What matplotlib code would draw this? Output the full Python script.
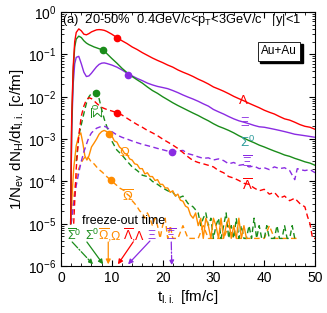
import numpy as np
import matplotlib
matplotlib.use("Agg")
import matplotlib.pyplot as plt
import matplotlib.transforms as mtransforms

plt.rcParams['font.family'] = ['Liberation Sans', 'DejaVu Sans']
plt.rcParams['mathtext.fontset'] = 'custom'
plt.rcParams['mathtext.rm'] = 'Liberation Sans'
plt.rcParams['mathtext.it'] = 'Liberation Sans:italic'

RED = '#ff0000'
GREEN = '#1a8c1a'
PURPLE = '#8a2be2'
ORANGE = '#ff8c00'
TEAL = '#2a9a9a'

# ---- data ----
t_solid = [1.9, 2.1, 2.4, 2.7, 3.0, 3.5, 4.0, 4.5, 5.0, 5.5, 6.0, 6.5, 7.0, 7.5, 8.0, 8.5, 9.0,
           10, 11, 12, 13, 14, 15, 16, 17, 18, 19, 20, 21, 22, 23, 24, 25, 26, 27, 28, 29, 30,
           31, 32, 33, 34, 35, 36, 37, 38, 39, 40, 41, 42, 43, 44, 45, 46, 47, 48, 49, 50]

lam = [1e-5, 3e-3, 0.05, 0.2, 0.33, 0.40, 0.36, 0.30, 0.29, 0.31, 0.34, 0.36, 0.38, 0.385, 0.38, 0.37, 0.35,
       0.30, 0.25, 0.21, 0.18, 0.15, 0.13, 0.11, 0.095, 0.082, 0.072, 0.064, 0.056, 0.050, 0.043, 0.038,
       0.034, 0.030, 0.026, 0.023, 0.020, 0.017, 0.0152, 0.0135, 0.0118, 0.0102, 0.0090, 0.0080, 0.0070,
       0.0062, 0.0055, 0.0048, 0.0043, 0.0039, 0.0034, 0.0030, 0.0028, 0.0025, 0.0022, 0.0020, 0.0019, 0.0017]

sig0 = [1e-5, 2e-3, 0.04, 0.15, 0.23, 0.27, 0.25, 0.21, 0.185, 0.17, 0.16, 0.15, 0.143, 0.136, 0.13, 0.12, 0.105,
        0.08, 0.062, 0.047, 0.037, 0.030, 0.025, 0.021, 0.017, 0.014, 0.012, 0.010, 0.0085, 0.0072, 0.0062,
        0.0054, 0.0047, 0.0041, 0.0036, 0.0031, 0.0027, 0.0023, 0.0020, 0.0018, 0.0016, 0.0014, 0.0012,
        0.00105, 0.00092, 0.00082, 0.00072, 0.00065, 0.00058, 0.00052, 0.00047, 0.00042, 0.00039, 0.00035,
        0.00032, 0.00029, 0.00027, 0.00024]

xi = [1e-5, 1.5e-3, 0.02, 0.06, 0.085, 0.09, 0.06, 0.038, 0.03, 0.031, 0.036, 0.043, 0.051, 0.058, 0.062, 0.063, 0.061,
      0.056, 0.050, 0.043, 0.036, 0.031, 0.027, 0.024, 0.021, 0.019, 0.0175, 0.0165, 0.0155, 0.014, 0.0125,
      0.011, 0.0098, 0.0088, 0.0078, 0.0068, 0.0060, 0.0050, 0.0044, 0.0039, 0.0034, 0.0030, 0.0027, 0.0025,
      0.0023, 0.0021, 0.00195, 0.0019, 0.0018, 0.0017, 0.0016, 0.0015, 0.0014, 0.0013, 0.00125, 0.0012,
      0.00115, 0.0011]

t_sigbar = [3.0, 3.5, 4.0, 4.5, 5.0, 5.5, 6.0, 6.5, 7.0, 7.5, 8.0, 8.5, 9.0, 9.5, 10, 10.5, 11, 12, 13, 14, 15,
            16, 17, 18, 19, 20, 21, 22, 23, 24, 25, 26, 27, 27.5, 28, 28.5, 29, 29.5, 30, 30.5, 31, 31.5, 32,
            32.5, 33, 33.5, 34, 34.5, 35, 35.5, 36, 36.5, 37, 37.5, 38, 38.5, 39, 39.5, 40, 40.5, 41, 41.5, 42,
            42.5, 43, 43.5, 44, 44.5, 45, 45.5, 46]
sigbar = [3e-4, 1.2e-3, 2.2e-3, 4e-3, 7e-3, 0.010, 0.012, 0.013, 0.012, 0.009, 5e-3, 3e-3, 2e-3, 1.3e-3, 9e-4,
          7e-4, 5.5e-4, 4.2e-4, 3e-4, 2.2e-4, 1.8e-4, 1.4e-4, 1.3e-4, 1.0e-4, 8.5e-5, 7e-5, 6e-5, 5.5e-5, 4e-5,
          4.5e-5, 3e-5, 2.5e-5, 1.8e-5, 9e-6, 1.35e-5, 1.8e-5, 9e-6, 1.35e-5, 4.5e-6, 9e-6, 1.35e-5, 4.5e-6,
          9e-6, 1.8e-5, 4.5e-6, 9e-6, 4.5e-6, 1.35e-5, 4.5e-6, 9e-6, 4.5e-6, 4.5e-6, 9e-6, 4.5e-6, 1.35e-5,
          4.5e-6, 9e-6, 4.5e-6, 4.5e-6, 9e-6, 4.5e-6, 4.5e-6, 4.5e-6, 9e-6, 4.5e-6, 4.5e-6, 9e-6, 4.5e-6,
          4.5e-6, 9e-6, 4.5e-6]

t_lambar = [2.5, 3.0, 3.5, 4.0, 4.5, 5.0, 5.5, 6.0, 6.5, 7.0, 7.5, 8.0, 9.0, 10, 11, 12, 13, 14, 15, 16, 17,
            18, 19, 20, 21, 22, 23, 24, 25, 26, 27, 28, 29, 30, 31, 32, 33, 34, 35, 36, 37, 38, 39, 40, 41,
            42, 43, 44, 45, 46, 47, 48, 48.5, 49, 49.5, 50]
lambar = [1e-5, 2e-4, 1.2e-3, 3.5e-3, 6e-3, 8.5e-3, 9.5e-3, 9e-3, 8e-3, 7e-3, 6.2e-3, 5.6e-3, 5e-3, 4.6e-3,
          4.2e-3, 3.7e-3, 3.1e-3, 2.6e-3, 2.2e-3, 1.9e-3, 1.6e-3, 1.4e-3, 1.2e-3, 1.0e-3, 8.5e-4, 7.2e-4,
          6e-4, 4.8e-4, 3.8e-4, 3.1e-4, 2.8e-4, 2.6e-4, 2.4e-4, 2.2e-4, 1.8e-4, 1.6e-4, 1.3e-4, 1.2e-4,
          1.05e-4, 9e-5, 8.5e-5, 7e-5, 6e-5, 6.5e-5, 5e-5, 5.5e-5, 4e-5, 4.5e-5, 3.5e-5, 4e-5, 3e-5, 2.5e-5,
          1.5e-5, 1e-5, 4.5e-6, 4.5e-6]

t_xibar = [2.0, 2.5, 3.0, 3.5, 4.0, 4.5, 5.0, 5.5, 6.0, 6.5, 7.0, 7.5, 8.0, 8.5, 9.0, 9.5, 10, 11, 12, 13, 14,
           15, 16, 17, 18, 19, 20, 21, 22, 23, 24, 25, 26, 27, 28, 29, 30, 31, 32, 33, 34, 35, 36, 37, 38, 39,
           40, 41, 42, 43, 44, 45, 46, 46.5, 47, 48, 49, 50]
xibar = [1e-5, 3e-5, 8e-5, 1.6e-4, 3e-4, 5e-4, 7.5e-4, 1.1e-3, 1.4e-3, 1.6e-3, 1.8e-3, 1.9e-3, 2.0e-3, 2.0e-3,
         1.9e-3, 1.7e-3, 1.5e-3, 1.25e-3, 1.1e-3, 1.0e-3, 9e-4, 8.2e-4, 7.5e-4, 7e-4, 6.5e-4, 6e-4, 5.6e-4,
         5.2e-4, 5e-4, 5.2e-4, 5.4e-4, 4.5e-4, 4.2e-4, 3.8e-4, 3.5e-4, 3.6e-4, 3.2e-4, 3.4e-4, 3.1e-4,
         2.6e-4, 2.8e-4, 2.4e-4, 2.5e-4, 2.2e-4, 2.3e-4, 2e-4, 2.1e-4, 1.9e-4, 2.2e-4, 2.0e-4, 2.1e-4,
         1.8e-4, 1.1e-4, 2e-4, 1.9e-4, 1.8e-4, 1.9e-4, 1.6e-4]

t_omega = [1.9, 2.2, 2.5, 3.0, 3.5, 3.9, 4.3, 4.7, 5.1, 5.5, 6.0, 6.5, 7.0, 7.5, 8.0, 8.5, 9.0, 9.5, 10, 10.5,
           11, 11.5, 12, 12.5, 13, 13.5, 14, 14.5, 15, 15.5, 16, 16.5, 17, 17.5, 18, 18.5, 19, 19.5, 20, 20.5,
           21, 21.5, 22, 22.5, 23, 23.5, 24, 24.5, 25, 25.5, 26, 26.5, 27, 27.5, 28, 28.5, 29, 29.5, 30, 30.5,
           31, 31.5, 32, 32.5, 33, 33.5, 34, 34.5, 35, 35.5, 36, 36.5]
omega = [1e-5, 5e-5, 2e-4, 7e-4, 1.2e-3, 1.4e-3, 8e-4, 4e-4, 3.2e-4, 4e-4, 6.5e-4, 8e-4, 1.0e-3, 1.3e-3,
         1.5e-3, 1.6e-3, 1.5e-3, 1.3e-3, 1.2e-3, 9e-4, 8.5e-4, 6.5e-4, 5.8e-4, 4.6e-4, 4.4e-4, 3.4e-4, 3.2e-4,
         2.6e-4, 2.5e-4, 2.0e-4, 2.0e-4, 1.5e-4, 1.6e-4, 1.3e-4, 1.3e-4, 1.05e-4, 1.1e-4, 8.5e-5, 8.5e-5,
         7e-5, 7e-5, 5.5e-5, 6e-5, 4.5e-5, 5e-5, 3.6e-5, 3.4e-5, 2.6e-5, 2.4e-5, 1.6e-5, 1.35e-5, 1.8e-5,
         9e-6, 1.35e-5, 4.5e-6, 1.35e-5, 9e-6, 4.5e-6, 1.35e-5, 9e-6, 4.5e-6, 1.35e-5, 4.5e-6, 9e-6, 1.35e-5,
         4.5e-6, 9e-6, 4.5e-6, 1.35e-5, 4.5e-6, 9e-6, 4.5e-6]

t_omebar = [2.0, 2.5, 3.0, 3.5, 4.0, 4.5, 5.0, 5.5, 6.0, 6.5, 7.0, 7.5, 8.0, 8.5, 9.0, 9.5, 10, 10.5, 11,
            11.5, 12, 12.5, 13, 13.5, 14, 14.5, 15, 15.5, 16, 16.5, 17, 17.5, 18, 18.5, 19, 19.5, 20, 20.5,
            21, 21.5, 22, 23, 24, 25, 26, 27, 28, 29, 30, 31, 32, 33, 34, 35, 36, 37, 38, 39, 40, 41, 42, 43,
            44, 45, 46, 47]
omebar = [1e-5, 4e-5, 1.2e-4, 2e-4, 2.8e-4, 3.5e-4, 4e-4, 3.5e-4, 2.8e-4, 2.6e-4, 2.2e-4, 1.9e-4, 1.7e-4,
          1.5e-4, 1.3e-4, 1.15e-4, 1.05e-4, 9e-5, 8e-5, 7e-5, 6.5e-5, 6e-5, 5e-5, 4.5e-5, 3.5e-5, 3e-5,
          2.5e-5, 2e-5, 1.8e-5, 1.35e-5, 1.8e-5, 1.35e-5, 9e-6, 1.35e-5, 9e-6, 4.5e-6, 9e-6, 1.35e-5, 4.5e-6,
          9e-6, 4.5e-6, 4.5e-6, 9e-6, 4.5e-6, 4.5e-6, 4.5e-6, 9e-6, 4.5e-6, 4.5e-6, 4.5e-6, 4.5e-6, 9e-6,
          4.5e-6, 4.5e-6, 4.5e-6, 4.5e-6, 4.5e-6, 4.5e-6, 4.5e-6, 9e-6, 4.5e-6, 4.5e-6, 4.5e-6, 4.5e-6,
          4.5e-6, 4.5e-6]

# freeze-out markers (t, value)
fo_lam = (11.0, 0.25)
fo_sig0 = (8.3, 0.125)
fo_xi = (13.2, 0.032)
fo_sigbar = (6.8, 0.012)
fo_lambar = (11.0, 4.2e-3)
fo_xibar = (21.8, 5.0e-4)
fo_omega = (9.4, 1.3e-3)
fo_omebar = (9.8, 1.05e-4)

fig = plt.figure(figsize=(3.27, 3.13), dpi=100)
ax = fig.add_axes([0.1865, 0.150, 0.777, 0.8115])

lw = 1.0
ds = (4, 2.5)
ax.plot(t_omebar, omebar, color=ORANGE, lw=lw, dashes=ds)
ax.plot(t_sigbar, sigbar, color=GREEN, lw=lw, dashes=ds)
ax.plot(t_omega, omega, color=ORANGE, lw=lw)
ax.plot(t_xibar, xibar, color=PURPLE, lw=lw, dashes=ds)
ax.plot(t_lambar, lambar, color=RED, lw=lw, dashes=ds)
ax.plot(t_solid, xi, color=PURPLE, lw=lw)
ax.plot(t_solid, sig0, color=GREEN, lw=lw)
ax.plot(t_solid, lam, color=RED, lw=lw)

for (t, v), c in [(fo_lam, RED), (fo_sig0, GREEN), (fo_xi, PURPLE), (fo_sigbar, GREEN),
                  (fo_lambar, RED), (fo_xibar, PURPLE), (fo_omega, ORANGE), (fo_omebar, ORANGE)]:
    ax.plot(t, v, 'o', color=c, ms=4.5)

ax.set_yscale('log')
ax.set_xlim(0, 50)
ax.set_ylim(1e-6, 1)
ax.set_xticks([0, 10, 20, 30, 40, 50])
ax.set_xticks(np.arange(0, 51, 2), minor=True)
ax.tick_params(which='both', direction='in', top=True, right=True, labelsize=10)
ax.tick_params(which='major', length=4)
ax.tick_params(which='minor', length=2)
ax.set_xlabel(r't$_{\rm l.i.}$ [fm/c]', fontsize=11, labelpad=2)
ax.set_ylabel(r'1/N$_{\rm ev}$ dN$_{\rm H}$/dt$_{\rm l.i.}$ [c/fm]', fontsize=11, labelpad=1)

ax.text(0.005, 0.968, r'(a)  20-50%  0.4GeV/c<p$_{\rm T}$<3GeV/c   |y|<1', transform=ax.transAxes,
        fontsize=9.3, va='center', ha='left')

# Au+Au box with shadow
shadow = mtransforms.offset_copy(ax.transAxes, fig=fig, x=2.5, y=-2.5, units='dots')
ax.text(0.858, 0.846, 'Au+Au', transform=shadow, fontsize=8.5, ha='center', va='center', color='k',
        bbox=dict(boxstyle='square,pad=0.3', fc='k', ec='k'))
ax.text(0.858, 0.846, 'Au+Au', transform=ax.transAxes, fontsize=8.5, ha='center', va='center',
        bbox=dict(boxstyle='square,pad=0.3', fc='white', ec='k', lw=0.6))

# curve labels
ax.text(35.8, 8e-3, r'$\Lambda$', color=RED, fontsize=9.5, ha='center', va='center')
ax.text(36.2, 2.4e-3, r'$\Xi$', color=PURPLE, fontsize=9.5, ha='center', va='center')
ax.text(36.8, 8.5e-4, r'$\Sigma^0$', color=TEAL, fontsize=9.5, ha='center', va='center')
ax.text(7.7, 4.8e-3, r'$\overline{\Sigma}^0$', color=GREEN, fontsize=9.5, ha='center', va='center', rotation=90)
ax.text(12.6, 4.7e-4, r'$\Omega$', color=ORANGE, fontsize=9.5, ha='center', va='center')
ax.text(13.2, 4.3e-5, r'$\overline{\Omega}$', color=ORANGE, fontsize=9.5, ha='center', va='center')
ax.text(36.6, 2.7e-4, r'$\overline{\Xi}$', color=PURPLE, fontsize=9.5, ha='center', va='center')
ax.text(36.6, 8e-5, r'$\overline{\Lambda}$', color=RED, fontsize=9.5, ha='center', va='center')

ax.text(4.1, 1.15e-5, 'freeze-out time', fontsize=9, ha='left', va='center')
yrow = 5.2e-6
ax.text(1.2, yrow, r'$\overline{\Sigma}^0$', color=GREEN, fontsize=9, ha='left', va='center')
ax.text(4.7, yrow, r'$\Sigma^0$', color=GREEN, fontsize=9, ha='left', va='center')
ax.text(7.3, yrow, r'$\overline{\Omega}$,$\Omega$', color=ORANGE, fontsize=9, ha='left', va='center')
ax.text(12.2, yrow, r'$\overline{\Lambda}$,$\Lambda$', color=RED, fontsize=9, ha='left', va='center')
ax.text(16.9, yrow, r'$\Xi$', color=PURPLE, fontsize=9, ha='left', va='center')
ax.text(20.7, yrow, r'$\overline{\Xi}$', color=PURPLE, fontsize=9, ha='left', va='center')

arrows = [((2.2, 3.7e-6), (6.3, 1.1e-6), GREEN, '-.'),
          ((5.1, 3.7e-6), (8.3, 1.1e-6), GREEN, '-'),
          ((9.3, 3.7e-6), (9.3, 1.1e-6), ORANGE, '-'),
          ((14.2, 3.7e-6), (11.2, 1.1e-6), RED, '-'),
          ((17.5, 3.9e-6), (13.2, 1.1e-6), PURPLE, '-'),
          ((21.7, 3.7e-6), (21.8, 1.05e-6), PURPLE, '-.')]
for start, end, c, ls in arrows:
    ax.annotate('', xy=end, xytext=start,
                arrowprops=dict(arrowstyle='-|>', color=c, lw=0.9, ls=ls,
                                mutation_scale=7, shrinkA=0, shrinkB=0))

fig.savefig('out.png', dpi=100)
